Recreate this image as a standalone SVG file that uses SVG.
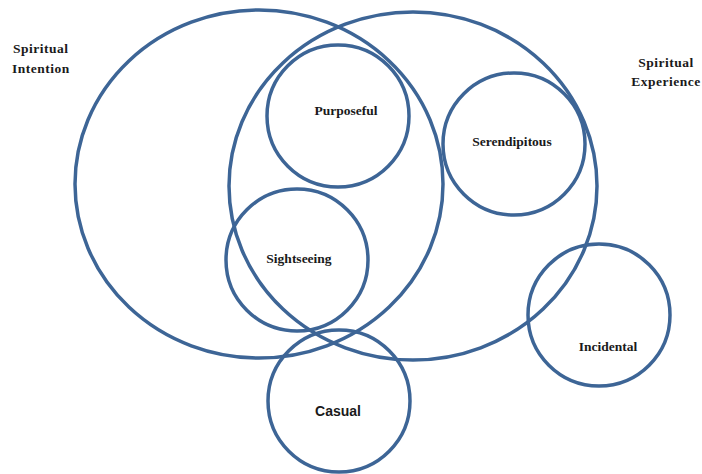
<svg xmlns="http://www.w3.org/2000/svg" width="702" height="474" viewBox="0 0 702 474">
<style>
.c{fill:none;stroke:#3d6596;stroke-width:3.5}
.t{font-family:"Liberation Serif",serif;font-weight:bold;font-size:13.5px;fill:#1a1a1a;text-anchor:middle}
.l{text-anchor:start}
.s{font-family:"Liberation Sans",Arial,sans-serif;font-weight:bold;font-size:14px;fill:#1a1a1a;text-anchor:middle}
</style>
<rect width="702" height="474" fill="#fff"/>
<g id="intention"><ellipse class="c" cx="259" cy="184" rx="184" ry="174"/>
<text class="t l" x="13" y="53" letter-spacing="0.5">Spiritual</text>
<text class="t l" x="12" y="73" letter-spacing="0.5">Intention</text></g>
<g id="experience"><ellipse class="c" cx="413" cy="186" rx="184" ry="174"/>
<text class="t" x="666" y="67" letter-spacing="0.5">Spiritual</text>
<text class="t" x="666" y="86" letter-spacing="0.5">Experience</text></g>
<g id="purposeful"><circle class="c" cx="338" cy="116" r="71"/><text class="t" x="346" y="115">Purposeful</text></g>
<g id="serendipitous"><circle class="c" cx="514" cy="144" r="71"/><text class="t" x="512" y="146">Serendipitous</text></g>
<g id="sightseeing"><circle class="c" cx="297" cy="260" r="71"/><text class="t" x="299" y="263">Sightseeing</text></g>
<g id="incidental"><circle class="c" cx="599" cy="315" r="71"/><text class="t" x="608" y="351">Incidental</text></g>
<g id="casual"><circle class="c" cx="339" cy="401" r="71"/><text class="s" x="338" y="416">Casual</text></g>
<g id="connectors"></g>
</svg>
